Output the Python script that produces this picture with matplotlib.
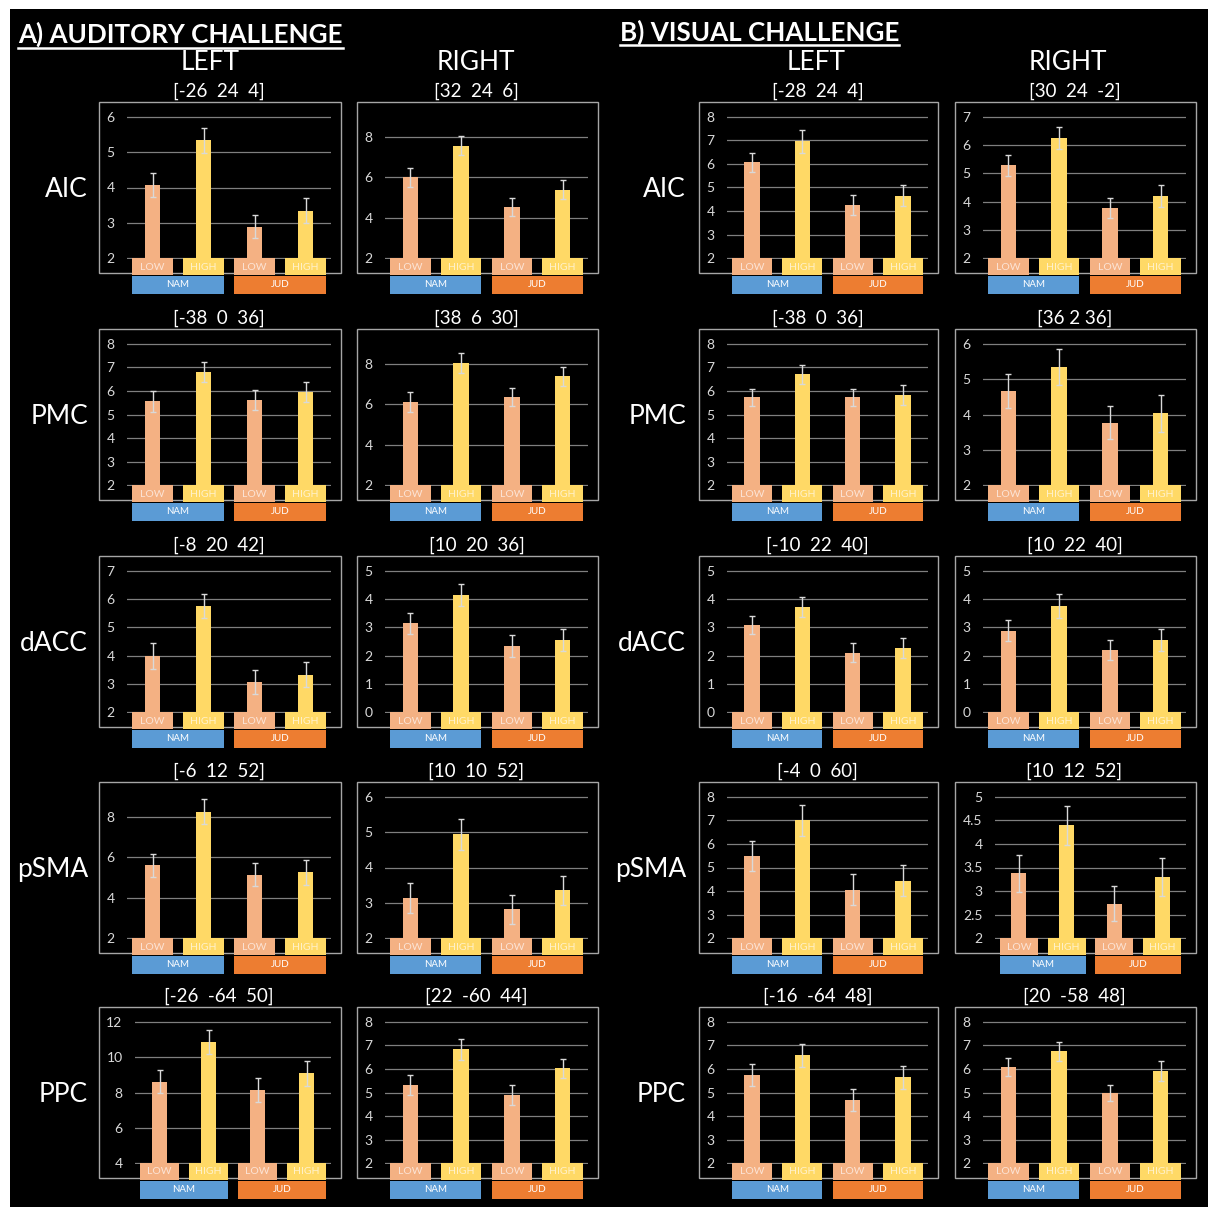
import matplotlib
matplotlib.use('Agg')
import matplotlib.pyplot as plt
import matplotlib.transforms as mtransforms
from matplotlib.patches import Rectangle
from matplotlib.lines import Line2D
from matplotlib.ticker import FuncFormatter
import numpy as np

plt.rcParams['font.family'] = 'Lato'

W, H = 1208, 1207

regions = ['AIC', 'PMC', 'dACC', 'pSMA', 'PPC']
conditions = ['LOW', 'HIGH', 'LOW', 'HIGH']
groups = ['NAM', 'JUD']
columns = ['LEFT', 'RIGHT', 'LEFT', 'RIGHT']

# panel order in every list: auditory left, auditory right, visual left, visual right
aic_coords = ['[-26  24  4]', '[32  24  6]', '[-28  24  4]', '[30  24  -2]']
aic_means = [[4.08, 5.33, 2.90, 3.35], [6.00, 7.55, 4.54, 5.40],
             [6.06, 6.95, 4.25, 4.66], [5.28, 6.24, 3.77, 4.21]]
aic_sems = [[0.34, 0.35, 0.32, 0.35], [0.47, 0.47, 0.44, 0.46],
            [0.42, 0.47, 0.42, 0.45], [0.37, 0.39, 0.36, 0.39]]
aic_ticks = [[2, 3, 4, 5, 6], [2, 4, 6, 8], [2, 3, 4, 5, 6, 7, 8], [2, 3, 4, 5, 6, 7]]
aic_ymax = [6, 9, 8, 7]

pmc_coords = ['[-38  0  36]', '[38  6  30]', '[-38  0  36]', '[36 2 36]']
pmc_means = [[5.55, 6.80, 5.62, 5.94], [6.12, 8.05, 6.36, 7.38],
             [5.72, 6.70, 5.72, 5.83], [4.66, 5.33, 3.77, 4.04]]
pmc_sems = [[0.45, 0.44, 0.41, 0.42], [0.49, 0.49, 0.44, 0.47],
            [0.36, 0.41, 0.36, 0.42], [0.47, 0.51, 0.47, 0.52]]
pmc_ticks = [[2, 3, 4, 5, 6, 7, 8], [2, 4, 6, 8], [2, 3, 4, 5, 6, 7, 8], [2, 3, 4, 5, 6]]
pmc_ymax = [8, 9, 8, 6]

dacc_coords = ['[-8  20  42]', '[10  20  36]', '[-10  22  40]', '[10  22  40]']
dacc_means = [[3.99, 5.76, 3.08, 3.33], [3.14, 4.15, 2.35, 2.55],
              [3.08, 3.72, 2.10, 2.28], [2.88, 3.74, 2.20, 2.55]]
dacc_sems = [[0.45, 0.43, 0.43, 0.44], [0.38, 0.39, 0.38, 0.38],
             [0.33, 0.35, 0.34, 0.36], [0.37, 0.42, 0.36, 0.38]]
dacc_ticks = [[2, 3, 4, 5, 6, 7], [0, 1, 2, 3, 4, 5], [0, 1, 2, 3, 4, 5], [0, 1, 2, 3, 4, 5]]
dacc_ymax = [7, 5, 5, 5]

psma_coords = ['[-6  12  52]', '[10  10  52]', '[-4  0  60]', '[10  12  52]']
psma_means = [[5.62, 8.26, 5.14, 5.27], [3.14, 4.94, 2.82, 3.36],
              [5.50, 6.99, 4.06, 4.45], [3.38, 4.39, 2.73, 3.30]]
psma_sems = [[0.57, 0.62, 0.57, 0.62], [0.43, 0.44, 0.41, 0.41],
             [0.64, 0.66, 0.66, 0.67], [0.39, 0.42, 0.37, 0.41]]
psma_ticks = [[2, 4, 6, 8], [2, 3, 4, 5, 6], [2, 3, 4, 5, 6, 7, 8],
              [2, 2.5, 3, 3.5, 4, 4.5, 5]]
psma_ymax = [9, 6, 8, 5]

ppc_coords = ['[-26  -64  50]', '[22  -60  44]', '[-16  -64  48]', '[20  -58  48]']
ppc_means = [[8.62, 10.84, 8.13, 9.09], [5.31, 6.82, 4.89, 6.03],
             [5.74, 6.57, 4.69, 5.65], [6.08, 6.74, 4.98, 5.91]]
ppc_sems = [[0.65, 0.69, 0.66, 0.71], [0.43, 0.43, 0.43, 0.40],
            [0.45, 0.49, 0.46, 0.49], [0.37, 0.39, 0.34, 0.41]]
ppc_ticks = [[4, 6, 8, 10, 12], [2, 3, 4, 5, 6, 7, 8], [2, 3, 4, 5, 6, 7, 8], [2, 3, 4, 5, 6, 7, 8]]
ppc_ymax = [12, 8, 8, 8]

all_coords = [aic_coords, pmc_coords, dacc_coords, psma_coords, ppc_coords]
all_means = [aic_means, pmc_means, dacc_means, psma_means, ppc_means]
all_sems = [aic_sems, pmc_sems, dacc_sems, psma_sems, ppc_sems]
all_ticks = [aic_ticks, pmc_ticks, dacc_ticks, psma_ticks, ppc_ticks]
all_ymax = [aic_ymax, pmc_ymax, dacc_ymax, psma_ymax, ppc_ymax]

LOW_C = '#F4B183'
HIGH_C = '#FFD966'
NAM_C = '#5B9BD5'
JUD_C = '#ED7D31'

# pixel layout of the chart boxes
col_edges = [(99, 341), (357, 598), (699, 938), (955, 1196)]
row_tops = [102, 329, 556, 782, 1007]
BOX_H = 171


def fx(x):
    return x / W


def fy(y):
    return 1 - y / H


fig = plt.figure(figsize=(W / 100, H / 100), dpi=100, facecolor='white')
fig.add_artist(Rectangle((fx(10), 0), 1 - fx(10), fy(9), transform=fig.transFigure,
                         facecolor='black', edgecolor='none', zorder=-10))

# section titles with underline
titles = []
titles.append(fig.text(fx(18), fy(34.5), 'A) AUDITORY CHALLENGE', fontsize=18.7,
                       fontweight='bold', color='white', ha='left', va='center'))
titles.append(fig.text(fx(620), fy(32.5), 'B) VISUAL CHALLENGE', fontsize=18.7,
                       fontweight='bold', color='white', ha='left', va='center'))
underline_y = [47.5, 45]

header_x = [210, 476, 816, 1068]
for c in range(4):
    fig.text(fx(header_x[c]), fy(62), columns[c], fontsize=19, color='white',
             ha='center', va='center')

for r in range(5):
    box_t = row_tops[r]
    box_b = box_t + BOX_H
    fig.text(fx(88), fy((box_t + box_b) / 2 + 2), regions[r], fontsize=19,
             color='white', ha='right', va='center')
    fig.text(fx(686), fy((box_t + box_b) / 2 + 2), regions[r], fontsize=19,
             color='white', ha='right', va='center')
    for c in range(4):
        box_l, box_r = col_edges[c]
        tk = all_ticks[r][c]
        ymin, ymax = tk[0], all_ymax[r][c]
        vals = np.array(all_means[r][c])
        errs = np.array(all_sems[r][c])

        fig.add_artist(Rectangle((fx(box_l), fy(box_b)), (box_r - box_l) / W, BOX_H / H,
                                 transform=fig.transFigure, fill=False,
                                 edgecolor='#a6a6a6', lw=1, zorder=-1))
        fig.text(fx((box_l + box_r) / 2 - 1), fy(box_t - 11), all_coords[r][c],
                 fontsize=13.5, color='white', ha='center', va='center')

        widest = max(len(f'{t:g}') for t in tk)
        left_off = 28 if widest == 1 else (36 if widest == 2 else 40)
        pl, pr = box_l + left_off, box_r - 10
        pt, pb = box_t + 14, box_b - 14
        ph = pb - pt
        ax = fig.add_axes([fx(pl), fy(pb), (pr - pl) / W, ph / H])
        ax.set_facecolor('none')
        for s in ax.spines.values():
            s.set_visible(False)

        x = np.arange(4)
        pad = (ymax - ymin) * 0.004
        ax.set_xlim(-0.5, 3.5)
        ax.set_ylim(ymin - pad, ymax + pad)
        ax.set_yticks(tk)
        ax.yaxis.set_major_formatter(FuncFormatter(lambda v, p: f'{v:g}'))
        ax.grid(axis='y', color='#7f7f7f', lw=0.9)
        ax.set_axisbelow(True)
        ax.tick_params(axis='y', length=0, pad=9, labelsize=10, labelcolor='#d9d9d9')
        ax.tick_params(axis='x', bottom=False, labelbottom=False)

        colors = [LOW_C, HIGH_C, LOW_C, HIGH_C]
        ax.bar(x, vals - ymin, bottom=ymin, width=0.31, color=colors, zorder=2)
        ax.errorbar(x, vals, yerr=errs, fmt='none', ecolor='#d9d9d9', elinewidth=1,
                    capsize=2.5, capthick=1, zorder=3)

        # category boxes under the bars, group boxes under the chart
        blend = mtransforms.blended_transform_factory(ax.transData, ax.transAxes)
        for i in range(4):
            y0, y1 = -16 / ph, 1 / ph
            ax.add_patch(Rectangle((i - 0.4, y0), 0.8, y1 - y0, transform=blend,
                                   facecolor=colors[i], edgecolor='none',
                                   clip_on=False, zorder=4))
            tcol = '#FCE4D6' if conditions[i] == 'LOW' else '#FFF2CC'
            ax.text(i, (y0 + y1) / 2 - 0.5 / ph, conditions[i], transform=blend,
                    ha='center', va='center', fontsize=7.5, color=tcol, zorder=5)
        for g in range(2):
            y0, y1 = -35 / ph, -16.5 / ph
            ax.add_patch(Rectangle((2 * g - 0.4, y0), 1.8, y1 - y0, transform=blend,
                                   facecolor=[NAM_C, JUD_C][g], edgecolor='none',
                                   clip_on=False, zorder=4))
            ax.text(2 * g + 0.5, (y0 + y1) / 2, groups[g], transform=blend,
                    ha='center', va='center', fontsize=7, color='white', zorder=5)

fig.canvas.draw()
for t, uy in zip(titles, underline_y):
    bb = t.get_window_extent()
    fig.add_artist(Line2D([bb.x0 / W, bb.x1 / W], [fy(uy), fy(uy)],
                          transform=fig.transFigure, color='white', lw=1.8))

fig.savefig('out.png', dpi=100, facecolor='white')
